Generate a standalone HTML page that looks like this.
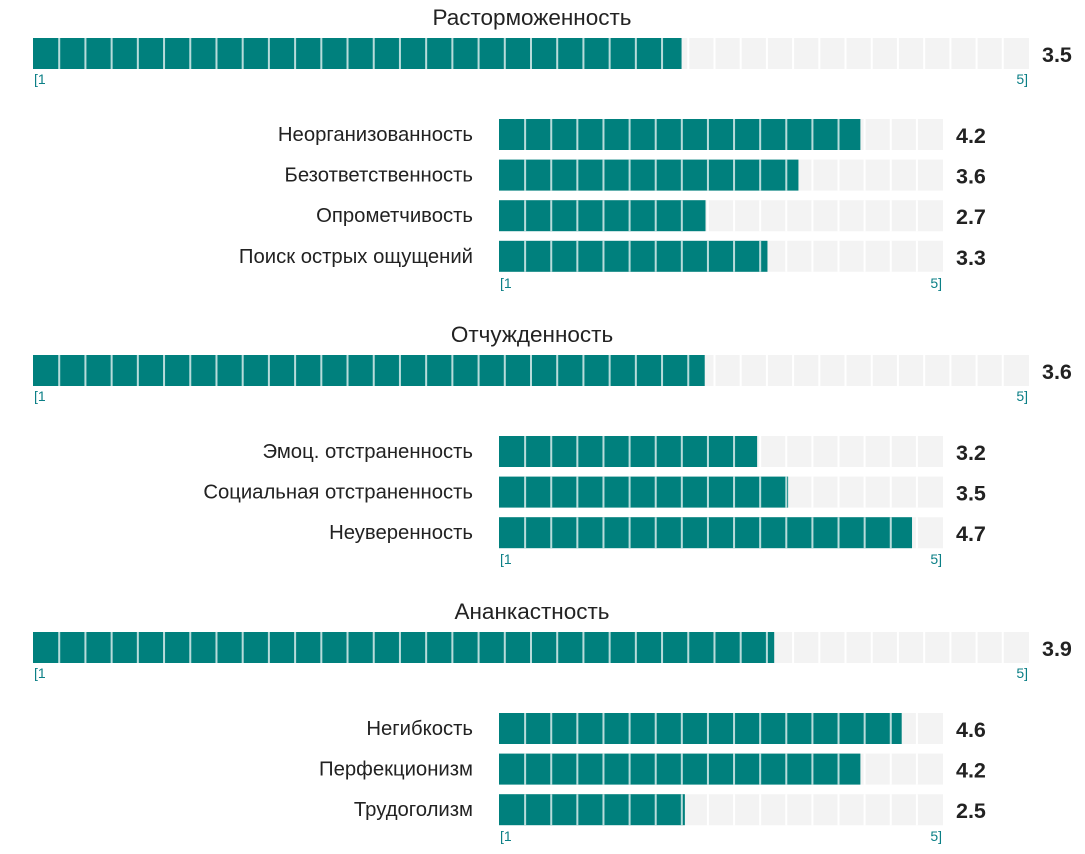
<!DOCTYPE html>
<html><head><meta charset="utf-8">
<style>
body{margin:0;background:#fff;}
svg{display:block;font-family:"Liberation Sans","DejaVu Sans",sans-serif;}
</style></head>
<body>
<svg id="chart" width="1085" height="854" viewBox="0 0 1085 854"></svg>
<script>
const groupTitles = ["Расторможенность","Отчужденность","Ананкастность"];
const groupValues = [3.5, 3.6, 3.9];
const subLabels = [
  ["Неорганизованность","Безответственность","Опрометчивость","Поиск острых ощущений"],
  ["Эмоц. отстраненность","Социальная отстраненность","Неуверенность"],
  ["Негибкость","Перфекционизм","Трудоголизм"]
];
const subValues = [
  [4.2, 3.6, 2.7, 3.3],
  [3.2, 3.5, 4.7],
  [4.6, 4.2, 2.5]
];
const axisTicks = ["[1","5]"];

const svg = document.getElementById('chart');
const NS = "http://www.w3.org/2000/svg";
const DMIN = 0.7, DMAX = 5;
function mk(tag, attrs, parent){const e=document.createElementNS(NS,tag);for(const k in attrs)e.setAttribute(k,attrs[k]);(parent||svg).appendChild(e);return e;}
function scale(v, x0, w){return w*(v-DMIN)/(DMAX-DMIN);}

function bar(x0, y, w, h, v, nseg, name, parent){
  const g = mk('g',{},parent);
  
  
  const bg = mk('rect',{x:x0,y:y,width:w,height:h,fill:'#f3f3f3'},g);
  
  
  const fw = Math.max(0, Math.min(w, scale(v, x0, w)));
  const fg = mk('rect',{x:x0,y:y,width:fw,height:h,fill:'#00807d'},g);
  
  
  const pitch = w/nseg;
  for(let i=1;i<nseg;i++){
    const gx = x0+i*pitch;
    mk('rect',{x:gx-1,y:y,width:2,height:h,fill:(gx<x0+fw)?'#b8dcdb':'#ffffff'},g);
  }
  return g;
}
function axis(x0, w, y, parent){
  const a = mk('text',{x:x0+1,y:y,'font-size':14,fill:'#0b7f86'},parent);
  a.textContent = axisTicks[0];
  
  
  const b = mk('text',{x:x0+w-1,y:y,'font-size':14,fill:'#0b7f86','text-anchor':'end'},parent);
  b.textContent = axisTicks[1];
  
  
}

const groupTop = [0, 317, 594];
const subStarts = [119, 436, 713];
groupTitles.forEach((t,gi)=>{
  const g = mk('g',{});
  
  
  const top = groupTop[gi];
  const tt = mk('text',{x:532,y:top+25,'font-size':22.5,fill:'#222','text-anchor':'middle'},g);
  tt.textContent = t;
  
  
  bar(33, top+38, 996, 31, groupValues[gi], 38, 'main-bar', g);
  const vt = mk('text',{x:1042,y:top+62,'font-size':21.5,'font-weight':'bold',fill:'#222'},g);
  vt.textContent = groupValues[gi].toFixed(1);
  
  
  axis(33, 996, top+84, g);
  const ys = subStarts[gi];
  subLabels[gi].forEach((lab,si)=>{
    const y = ys + si*40.6;
    const l = mk('text',{x:473,y:y+22,'font-size':20.3,fill:'#222','text-anchor':'end'},g);
    l.textContent = lab;
    
    
    bar(499, y, 444, 31, subValues[gi][si], 17, 'sub-bar', g);
    const v = mk('text',{x:956,y:y+24,'font-size':21.5,'font-weight':'bold',fill:'#222'},g);
    v.textContent = subValues[gi][si].toFixed(1);
    
    
  });
  axis(499, 444, ys + (subLabels[gi].length-1)*40.6 + 47, g);
});
</script>
</body></html>
